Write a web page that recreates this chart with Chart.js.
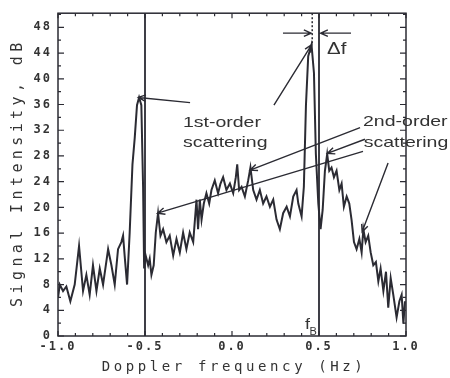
<!DOCTYPE html>
<html>
<head>
<meta charset="utf-8">
<script src="https://cdn.jsdelivr.net/npm/chart.js@4.4.0/dist/chart.umd.min.js"></script>
<style>
  html, body { margin: 0; padding: 0; background: #fff; }
  #wrap { width: 450px; height: 378px; position: relative; }
</style>
</head>
<body>
<div id="wrap"><canvas id="spectrum"></canvas></div>
<script>
// Doppler frequency (Hz)
const freqs = [
  -1.000, -0.990, -0.971, -0.952, -0.929, -0.904, -0.879, -0.856, -0.837, -0.818,
  -0.799, -0.779, -0.760, -0.741, -0.712, -0.693, -0.674, -0.655, -0.636, -0.626,
  -0.617, -0.603, -0.588, -0.572, -0.559, -0.546, -0.534, -0.521, -0.511, -0.505,
  -0.496, -0.482, -0.473, -0.463, -0.450, -0.438, -0.425, -0.411, -0.396, -0.377,
  -0.358, -0.338, -0.319, -0.300, -0.281, -0.262, -0.243, -0.223, -0.204, -0.195,
  -0.185, -0.175, -0.162, -0.147, -0.131, -0.118, -0.099, -0.080, -0.066, -0.051,
  -0.032, -0.012, 0.007, 0.022, 0.030, 0.041, 0.055, 0.074, 0.093, 0.106,
  0.122, 0.141, 0.160, 0.179, 0.198, 0.218, 0.237, 0.256, 0.275, 0.294,
  0.314, 0.333, 0.352, 0.371, 0.381, 0.400, 0.413, 0.425, 0.438, 0.457,
  0.471, 0.482, 0.496, 0.509, 0.521, 0.534, 0.547, 0.559, 0.572, 0.586,
  0.601, 0.617, 0.630, 0.643, 0.659, 0.674, 0.687, 0.701, 0.716, 0.732,
  0.745, 0.755, 0.768, 0.783, 0.797, 0.812, 0.827, 0.841, 0.854, 0.870,
  0.885, 0.898, 0.912, 0.927, 0.946, 0.962, 0.975, 0.985, 0.994
];

// Signal intensity (dB)
const intensity = [
  5.9, 8.0, 7.0, 7.7, 5.4, 8.0, 14.0, 7.0, 9.5, 6.4,
  11.0, 7.0, 10.5, 8.0, 13.5, 11.0, 8.0, 13.5, 14.6, 15.6,
  12.5, 8.0, 16.1, 26.7, 30.8, 35.9, 37.1, 35.9, 23.2, 10.5,
  12.5, 11.0, 12.0, 9.5, 11.0, 16.1, 19.1, 15.6, 16.6, 14.6,
  15.6, 12.5, 15.1, 13.0, 16.1, 13.5, 16.1, 14.6, 21.2, 16.6,
  21.2, 18.1, 20.6, 22.2, 20.6, 22.7, 24.2, 22.2, 23.7, 24.7,
  22.7, 23.7, 22.2, 24.7, 26.7, 22.7, 23.2, 21.7, 24.2, 26.2,
  22.7, 21.2, 22.7, 20.6, 21.7, 20.1, 21.2, 18.1, 16.6, 19.1,
  20.1, 18.6, 21.7, 22.7, 20.6, 18.6, 23.2, 35.9, 43.5, 45.3,
  40.9, 28.3, 20.6, 16.6, 19.6, 25.7, 28.3, 25.7, 26.2, 24.7,
  25.7, 22.7, 23.7, 20.1, 21.7, 20.6, 18.1, 14.6, 13.5, 15.1,
  13.0, 16.6, 14.6, 15.6, 13.0, 11.0, 11.5, 8.5, 10.5, 7.0,
  10.0, 4.4, 9.0, 6.4, 2.9, 5.4, 6.4, 1.9, 5.4
];

const xLabelValues = [-1.0, -0.5, 0.0, 0.5, 1.0];
const yLabelValues = [0, 4, 8, 12, 16, 20, 24, 28, 32, 36, 40, 44, 48];

// Bragg lines and annotation arrows, in data units [tailX, tailY, tipX, tipY]
const braggLines = [-0.5, 0.5];
const arrows = [
  [-0.241, 36.3, -0.538, 37.1],
  [0.241, 35.9, 0.458, 45.3],
  [0.736, 32.4, 0.104, 25.8],
  [0.764, 30.6, 0.548, 28.4],
  [0.753, 28.7, -0.428, 19.1],
  [0.897, 26.9, 0.748, 16.2],
  [0.293, 47.1, 0.455, 47.1],
  [0.684, 47.1, 0.509, 47.1]
];

const INK = '#2b2b33';
const TEXT = '#333';

function onTick(v, list) {
  return list.some(t => Math.abs(t - v) < 1e-6);
}

function stretchText(ctx, txt, x, y, size, sx, align) {
  ctx.save();
  ctx.translate(x, y);
  ctx.scale(sx, 1);
  ctx.font = size + 'px "Liberation Sans", Arial, sans-serif';
  ctx.fillStyle = TEXT;
  ctx.textAlign = align || 'left';
  ctx.textBaseline = 'middle';
  ctx.fillText(txt, 0, 0);
  ctx.restore();
}

function arrow(ctx, x0, y0, x1, y1) {
  const a = Math.atan2(y1 - y0, x1 - x0);
  const L = 8, w = 0.42;
  ctx.beginPath();
  ctx.moveTo(x0, y0);
  ctx.lineTo(x1, y1);
  ctx.moveTo(x1 - L * Math.cos(a - w), y1 - L * Math.sin(a - w));
  ctx.lineTo(x1, y1);
  ctx.lineTo(x1 - L * Math.cos(a + w), y1 - L * Math.sin(a + w));
  ctx.stroke();
}

const framePlugin = {
  id: 'frame',
  beforeDraw(chart) {
    // spaced-out tick labels like the original plot
    chart.ctx.letterSpacing = '2px';
  },
  beforeDatasetsDraw(chart) {
    chart.ctx.letterSpacing = '0px';
  },
  afterDraw(chart) {
    const { ctx, chartArea: a, scales: { x, y } } = chart;
    ctx.save();
    ctx.strokeStyle = INK;
    ctx.lineCap = 'butt';

    // box
    ctx.lineWidth = 1.5;
    ctx.strokeRect(a.left, a.top, a.right - a.left, a.bottom - a.top);

    // inward ticks
    ctx.lineWidth = 1.2;
    ctx.beginPath();
    x.ticks.forEach(t => {
      const px = x.getPixelForValue(t.value);
      const len = onTick(t.value, xLabelValues) ? 5 : 3;
      ctx.moveTo(px, a.bottom); ctx.lineTo(px, a.bottom - len);
      ctx.moveTo(px, a.top); ctx.lineTo(px, a.top + len);
    });
    y.ticks.forEach(t => {
      const py = y.getPixelForValue(t.value);
      const len = onTick(t.value, yLabelValues) ? 6 : 3;
      ctx.moveTo(a.left, py); ctx.lineTo(a.left + len, py);
      ctx.moveTo(a.right, py); ctx.lineTo(a.right - len, py);
    });
    ctx.stroke();

    // Bragg frequency lines
    ctx.lineWidth = 1.8;
    ctx.beginPath();
    braggLines.forEach(f => {
      const px = x.getPixelForValue(f);
      ctx.moveTo(px, a.top); ctx.lineTo(px, a.bottom);
    });
    ctx.stroke();

    // dotted line at shifted peak
    ctx.lineWidth = 1.5;
    ctx.setLineDash([2, 2]);
    ctx.beginPath();
    ctx.moveTo(x.getPixelForValue(0.461), a.top);
    ctx.lineTo(x.getPixelForValue(0.461), y.getPixelForValue(45.5));
    ctx.stroke();
    ctx.setLineDash([]);

    // arrows
    ctx.lineWidth = 1.4;
    arrows.forEach(([x0, y0, x1, y1]) => {
      arrow(ctx, x.getPixelForValue(x0), y.getPixelForValue(y0),
                 x.getPixelForValue(x1), y.getPixelForValue(y1));
    });

    // annotation text
    stretchText(ctx, '1st-order', x.getPixelForValue(-0.282), y.getPixelForValue(33.2), 15, 1.3);
    stretchText(ctx, 'scattering', x.getPixelForValue(-0.282), y.getPixelForValue(30.1), 15, 1.3);
    stretchText(ctx, '2nd-order', x.getPixelForValue(0.753), y.getPixelForValue(33.3), 15, 1.3);
    stretchText(ctx, 'scattering', x.getPixelForValue(0.757), y.getPixelForValue(30.1), 15, 1.3);
    stretchText(ctx, '\u0394f', x.getPixelForValue(0.546), y.getPixelForValue(44.6), 17, 1.2);
    stretchText(ctx, 'f', x.getPixelForValue(0.42), y.getPixelForValue(1.8), 15, 1.2);
    stretchText(ctx, 'B', x.getPixelForValue(0.445), y.getPixelForValue(0.6), 10, 1.1);

    // axis titles
    ctx.fillStyle = TEXT;
    ctx.textBaseline = 'middle';
    ctx.textAlign = 'center';
    ctx.font = '14px "DejaVu Sans Mono", monospace';
    ctx.letterSpacing = '3.6px';
    ctx.fillText('Doppler frequency (Hz)', (a.left + a.right) / 2 + 2, 367);
    ctx.save();
    ctx.translate(18, (a.top + a.bottom) / 2);
    ctx.rotate(-Math.PI / 2);
    ctx.font = '15px "DejaVu Sans Mono", monospace';
    ctx.letterSpacing = '4.4px';
    ctx.fillText('Signal Intensity, dB', 2, 0);
    ctx.restore();
    ctx.letterSpacing = '0px';
    ctx.restore();
  }
};

new Chart(document.getElementById('spectrum'), {
  type: 'line',
  data: {
    datasets: [{
      data: freqs.map((f, i) => ({ x: f, y: intensity[i] })),
      borderColor: INK,
      borderWidth: 2,
      pointRadius: 0,
      tension: 0
    }]
  },
  options: {
    responsive: true,
    maintainAspectRatio: false,
    animation: false,
    layout: { padding: { top: 6, right: 44, left: 0, bottom: 0 } },
    plugins: { legend: { display: false }, tooltip: { enabled: false } },
    scales: {
      x: {
        type: 'linear',
        min: -1,
        max: 1,
        grid: { display: false, drawTicks: false },
        border: { display: false },
        afterFit: s => { s.height = 42; },
        ticks: {
          stepSize: 0.1,
          autoSkip: false,
          maxRotation: 0,
          padding: 4,
          color: TEXT,
          font: { family: '"DejaVu Sans Mono", monospace', size: 12, weight: 'bold' },
          callback: v => onTick(v, xLabelValues) ? v.toFixed(1) : ''
        }
      },
      y: {
        min: 0,
        max: 50.2,
        grid: { display: false, drawTicks: false },
        border: { display: false },
        afterFit: s => { s.width = 58; },
        ticks: {
          stepSize: 2,
          includeBounds: false,
          autoSkip: false,
          padding: 6,
          color: TEXT,
          font: { family: '"DejaVu Sans Mono", monospace', size: 12, weight: 'bold' },
          callback: v => onTick(v, yLabelValues) ? String(v) : ''
        }
      }
    }
  },
  plugins: [framePlugin]
});
</script>
</body>
</html>
